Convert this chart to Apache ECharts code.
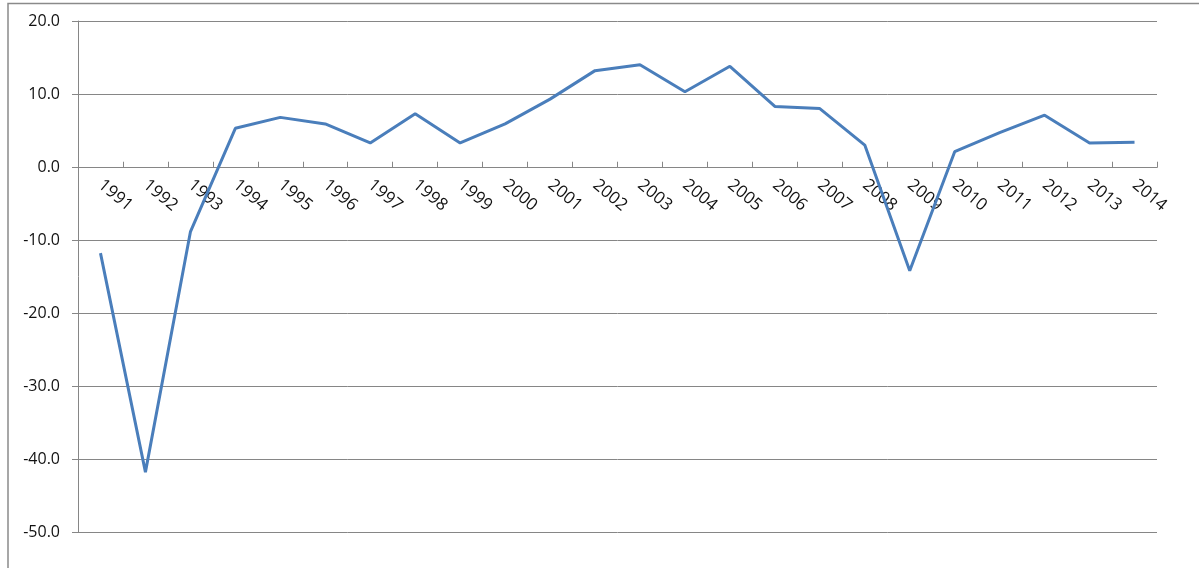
<!DOCTYPE html>
<html>
<head>
<meta charset="utf-8">
<script src="https://cdn.jsdelivr.net/npm/echarts@6/dist/echarts.min.js"></script>
<style>
  html, body { margin: 0; padding: 0; background: #fff; }
  #chart { width: 1199px; height: 568px; }
</style>
</head>
<body>
<div id="chart"></div>
<script>
// Annual growth rate, %
const years = ['1991','1992','1993','1994','1995','1996','1997','1998','1999','2000',
               '2001','2002','2003','2004','2005','2006','2007','2008','2009','2010',
               '2011','2012','2013','2014'];
const growth = [-11.8, -41.8, -8.9, 5.3, 6.8, 5.9, 3.3, 7.3, 3.3, 5.9,
                9.3, 13.2, 14.0, 10.3, 13.8, 8.3, 8.0, 3.0, -14.2, 2.1,
                4.7, 7.1, 3.3, 3.4];
const yMin = -50, yMax = 20, yStep = 10;

const chart = echarts.init(document.getElementById('chart'), null, { renderer: 'canvas' });
const font = 'Open Sans, Liberation Sans, sans-serif';
const gridBottom = 36;
chart.setOption({
  animation: false,
  graphic: [{
    type: 'rect',
    shape: { x: 8, y: 3.5, width: 1400, height: 800 },
    style: { fill: 'none', stroke: '#8a8a8a', lineWidth: 1.5 },
    silent: true
  }],
  grid: { left: 78, right: 42, top: 21, bottom: gridBottom, containLabel: false },
  xAxis: {
    type: 'category',
    data: years,
    boundaryGap: true,
    position: 'bottom',
    // the zero grid line serves as the axis line
    axisLine: { show: false, onZero: false },
    axisTick: { show: true, length: 6, inside: false, lineStyle: { color: '#868686' } },
    axisLabel: {
      rotate: -40, margin: 21, interval: 0,
      color: '#111', fontSize: 17, fontFamily: font
    },
    splitLine: { show: false }
  },
  yAxis: {
    type: 'value',
    min: yMin, max: yMax, interval: yStep,
    axisLine: { show: true, lineStyle: { color: '#868686', width: 1 } },
    axisTick: { show: true, length: 6, lineStyle: { color: '#868686' } },
    axisLabel: {
      margin: 18, color: '#111', fontSize: 16, fontFamily: font,
      formatter: v => v.toFixed(1)
    },
    splitLine: { show: true, lineStyle: { color: '#868686', width: 1 } }
  },
  series: [{
    type: 'line',
    data: growth,
    symbol: 'none',
    lineStyle: { color: '#4a7ebb', width: 3 },
    itemStyle: { color: '#4a7ebb' }
  }]
});

// Move the category axis (ticks and labels) up to the zero line
const zeroY = chart.convertToPixel({ yAxisIndex: 0 }, 0);
const bottomY = chart.getHeight() - gridBottom;
chart.setOption({ xAxis: { offset: -(bottomY - zeroY) } });
</script>
</body>
</html>
